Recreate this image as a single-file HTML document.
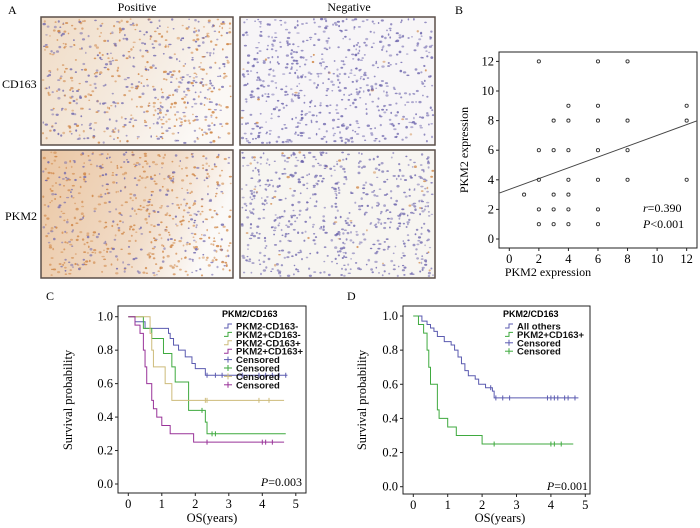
<!DOCTYPE html>
<html><head><meta charset="utf-8"><style>
html,body{margin:0;padding:0;background:#fff;}
svg{display:block;}
.serif{font-family:"Liberation Serif",serif;}
.sans{font-family:"Liberation Sans",sans-serif;}
</style></head><body>
<svg id="fig" width="700" height="528" viewBox="0 0 700 528" xmlns="http://www.w3.org/2000/svg">
<defs>
<linearGradient id="gPos1" x1="0" y1="0" x2="1" y2="0.4"><stop offset="0" stop-color="#f0dcc6"/><stop offset="0.6" stop-color="#f5ebe0"/><stop offset="1" stop-color="#fbf8f5"/></linearGradient>
<linearGradient id="gPos2" x1="0" y1="0" x2="1" y2="0.3"><stop offset="0" stop-color="#ebc7a4"/><stop offset="0.65" stop-color="#f1dcc8"/><stop offset="1" stop-color="#fbf9f7"/></linearGradient>
</defs>
<g id="panelA" class="serif">
<text x="8" y="14" font-size="12">A</text>
<text x="137" y="11" font-size="12" text-anchor="middle">Positive</text>
<text x="349" y="11" font-size="12" text-anchor="middle">Negative</text>
<text x="2" y="88" font-size="12">CD163</text>
<text x="5" y="220" font-size="12">PKM2</text>
<rect x="41" y="17" width="192" height="128" fill="url(#gPos1)" stroke="#5a4e48" stroke-width="1.5"/>
<rect x="240" y="17" width="195" height="128" fill="#f7f5f7" stroke="#5a4e48" stroke-width="1.5"/>
<rect x="41" y="150" width="192" height="128" fill="url(#gPos2)" stroke="#5a4e48" stroke-width="1.5"/>
<rect x="240" y="150" width="195" height="128" fill="#f7f5f1" stroke="#5a4e48" stroke-width="1.5"/>
<g id="dots"></g>
</g>

<g id="panelB" class="serif">
<text x="455" y="14" font-size="12">B</text>
<rect x="499" y="52" width="198" height="196" fill="none" stroke="#222" stroke-width="1"/>
<g id="bAxes"></g><g id="bPts"></g>
<text transform="translate(468,150) rotate(-90)" font-size="12" text-anchor="middle">PKM2 expression</text>
<text x="548" y="276" font-size="12" text-anchor="middle">PKM2 expression</text>
<text x="643" y="212" font-size="12"><tspan font-style="italic">r</tspan>=0.390</text>
<text x="643" y="228" font-size="12"><tspan font-style="italic">P</tspan>&lt;0.001</text>
</g>

<g id="panelC" class="serif">
<text x="46" y="300" font-size="12">C</text>
<rect x="118" y="306" width="188" height="187" fill="none" stroke="#222"/>
<g id="cAxes"></g><g id="cLines"></g>
<text transform="translate(72,400) rotate(-90)" font-size="12.5" text-anchor="middle">Survival probability</text>
<text x="212" y="522" font-size="12.5" text-anchor="middle">OS(years)</text>
<text x="302" y="486" font-size="12" text-anchor="end"><tspan font-style="italic">P</tspan>=0.003</text>
<g id="cLegend" class="sans"></g>
</g>

<g id="panelD" class="serif">
<text x="347" y="300" font-size="12">D</text>
<rect x="403" y="306" width="187" height="188" fill="none" stroke="#222"/>
<g id="dAxes"></g><g id="dLines"></g>
<text transform="translate(366,400) rotate(-90)" font-size="12.5" text-anchor="middle">Survival probability</text>
<text x="500" y="522" font-size="12.5" text-anchor="middle">OS(years)</text>
<text x="588" y="490" font-size="12" text-anchor="end"><tspan font-style="italic">P</tspan>=0.001</text>
<g id="dLegend" class="sans"></g>
</g>
</svg>
<script>
// ---------- Panel B data ----------
const scatterX = [2,6,8, 4,6,12, 3,4,6,8,12, 2,3,4,6,8, 2,4,6,8,12, 1,3,4, 2,3,4,6, 2,3,4,6];
const scatterY = [12,12,12, 9,9,9, 8,8,8,8,8, 6,6,6,6,6, 4,4,4,4,4, 3,3,3, 2,2,2,2, 1,1,1,1];
const bTicks = [0,2,4,6,8,10,12];
const fitIntercept = 3.35, fitSlope = 0.365;

// ---------- Panel C data ----------
const cNames = ["PKM2-CD163-","PKM2+CD163-","PKM2-CD163+","PKM2+CD163+"];
const cTimes = [
 [0.2,0.5,1.2,1.25,1.35,1.5,1.7,1.9,2.0,2.3],
 [0.45,0.7,1.05,1.3,1.4,1.8,2.3,2.35],
 [0.65,0.7,0.75,1.1,1.3],
 [0.2,0.35,0.45,0.5,0.55,0.7,0.75,0.85,1.0,1.25,1.95]];
const cSurv = [
 [0.97,0.93,0.90,0.87,0.83,0.80,0.76,0.72,0.69,0.65],
 [0.93,0.87,0.78,0.70,0.61,0.44,0.37,0.30],
 [0.90,0.80,0.70,0.60,0.50],
 [0.95,0.90,0.80,0.70,0.60,0.50,0.45,0.40,0.35,0.30,0.25]];
const cEnd = [4.75,4.7,4.65,4.65];
const cCensor = [[2.35,2.6,2.8,3.4,3.9,4.1,4.3,4.5,4.7],[2.2,2.5,2.6],[2.3,2.35,3.9,4.2],[2.35,4.0,4.1,4.3]];

// ---------- Panel D data ----------
const dNames = ["All others","PKM2+CD163+"];
const dTimes = [
 [0.25,0.4,0.5,0.6,0.7,0.9,1.1,1.2,1.3,1.4,1.5,1.6,1.8,1.9,2.1,2.3,2.35],
 [0.15,0.3,0.4,0.45,0.5,0.7,0.75,1.0,1.25,2.0]];
const dSurv = [
 [0.97,0.95,0.93,0.91,0.88,0.85,0.83,0.80,0.76,0.72,0.68,0.65,0.63,0.60,0.58,0.56,0.52],
 [0.95,0.90,0.80,0.70,0.60,0.45,0.40,0.35,0.30,0.25]];
const dEnd = [4.8,4.65];
const dCensor = [[2.25,2.4,2.6,2.8,3.9,4.0,4.1,4.2,4.4,4.5,4.7],[2.35,4.0,4.1,4.3]];
const kmYTicks = [0,0.2,0.4,0.6,0.8,1.0];
const kmXTicks = [0,1,2,3,4,5];

const NS="http://www.w3.org/2000/svg";
function mk(tag,attrs,parent){const e=document.createElementNS(NS,tag);for(const k in attrs)e.setAttribute(k,attrs[k]);parent.appendChild(e);return e;}

// micrograph textures (decorative, deterministic)
(function(){
 const g=document.getElementById('dots');let s=7;
 function rnd(){s=(s*16807)%2147483647;return s/2147483647;}
 const boxes=[[41,17,192,128,0.5],[240,17,195,128,0.03],[41,150,192,128,0.65],[240,150,195,128,0.06]];
 boxes.forEach(b=>{
  for(let i=0;i<650;i++){
   const x=b[0]+2+rnd()*(b[2]-4), y=b[1]+2+rnd()*(b[3]-4);
   const r=rnd();
   let col = r<b[4]? '#cf8545' : '#6c64ac';
   const e=mk('ellipse',{cx:x.toFixed(1),cy:y.toFixed(1),rx:(0.8+rnd()*0.9).toFixed(1),ry:(0.7+rnd()*0.6).toFixed(1),fill:col,opacity:(0.45+rnd()*0.4).toFixed(2)},g);
   
   
  }
 });
})();

// Panel B
(function(){
 const x0=509.3,xs=14.78,y0=239,ys=14.8;
 const X=v=>x0+v*xs, Y=v=>y0-v*ys;
 const ax=document.getElementById('bAxes');
 bTicks.forEach(t=>{
  let l=mk('line',{x1:X(t),x2:X(t),y1:248,y2:251,stroke:'#222'},ax);
  
  
  let tx=mk('text',{x:X(t),y:263,'font-size':12.5,'text-anchor':'middle'},ax);tx.textContent=t;
  
  
  l=mk('line',{x1:496,x2:499,y1:Y(t),y2:Y(t),stroke:'#222'},ax);
  
  
  tx=mk('text',{x:494,y:Y(t)+4,'font-size':12.5,'text-anchor':'end'},ax);tx.textContent=t;
  
  
 });
 const p=document.getElementById('bPts');
 const xa=-0.65, xb=12.7;
 const fl=mk('line',{x1:X(xa),y1:Y(fitIntercept+fitSlope*xa),x2:X(xb),y2:Y(fitIntercept+fitSlope*xb),stroke:'#444','stroke-width':1},p);
 
 
 scatterX.forEach((v,i)=>{
  const c=mk('circle',{cx:X(v),cy:Y(scatterY[i]),r:1.6,fill:'none',stroke:'#333','stroke-width':0.9},p);
  
  
 });
})();

function kmPanel(axId,linesId,legId,x0,xs,y0,ys,frame,names,times,surv,ends,cens,colors,leg){
 const X=v=>x0+v*xs, Y=v=>y0-v*ys;
 const ax=document.getElementById(axId);
 kmXTicks.forEach(t=>{
  let l=mk('line',{x1:X(t),x2:X(t),y1:frame.b,y2:frame.b+3,stroke:'#222'},ax);
  
  
  let tx=mk('text',{x:X(t),y:frame.b+15,'font-size':12.5,'text-anchor':'middle'},ax);tx.textContent=t;
  
  
 });
 kmYTicks.forEach(t=>{
  let l=mk('line',{x1:frame.l-3,x2:frame.l,y1:Y(t),y2:Y(t),stroke:'#222'},ax);
  
  
  let tx=mk('text',{x:frame.l-5,y:Y(t)+4,'font-size':12.5,'text-anchor':'end'},ax);tx.textContent=t.toFixed(1);
  
  
 });
 const g=document.getElementById(linesId);
 times.forEach((ts,i)=>{
  let d='M'+X(0)+','+Y(1);
  ts.forEach((t,j)=>{d+=' H'+X(t)+' V'+Y(surv[i][j]);});
  d+=' H'+X(ends[i]);
  const pth=mk('path',{d:d,fill:'none',stroke:colors[i],'stroke-width':1},g);
  
  
  cens[i].forEach(t=>{
   let s=1;ts.forEach((tt,j)=>{if(tt<=t)s=surv[i][j];});
   const c=mk('line',{x1:X(t),x2:X(t),y1:Y(s)-2.5,y2:Y(s)+2.5,stroke:colors[i],'stroke-width':1},g);
   
   
  });
 });
 const lg=document.getElementById(legId);
 let t=mk('text',{x:leg.x,y:leg.y,'font-size':9,'font-weight':'bold'},lg);t.textContent='PKM2/CD163';
 
 
 const all=names.map((n,i)=>[n,colors[i],'step']).concat(names.map((n,i)=>['Censored',colors[i],'plus']));
 all.forEach((e,i)=>{
  const y=leg.y+10+i*8.4;
  const gi=mk('g',{},lg);
  
  
  if(e[2]==='step') mk('path',{d:`M${leg.x+2},${y+1} H${leg.x+6} V${y-3} H${leg.x+10}`,fill:'none',stroke:e[1]},gi);
  else {mk('line',{x1:leg.x+2,x2:leg.x+10,y1:y-1,y2:y-1,stroke:e[1]},gi);mk('line',{x1:leg.x+6,x2:leg.x+6,y1:y-4,y2:y+2,stroke:e[1]},gi);}
  const tx=mk('text',{x:leg.x+14,y:y+2.5,'font-size':9.5,'font-weight':'bold',fill:'#111'},gi);tx.textContent=e[0];
 });
}
kmPanel('cAxes','cLines','cLegend',128.3,33.5,484,167.3,{l:118,b:493},cNames,cTimes,cSurv,cEnd,cCensor,['#5b5bb0','#3faa3f','#cdbb7a','#993399'],{x:222,y:317});
kmPanel('dAxes','dLines','dLegend',413.3,34.4,486.7,170.7,{l:403,b:494},dNames,dTimes,dSurv,dEnd,dCensor,['#5b5bb0','#3faa3f'],{x:503,y:317});
</script>
</body></html>
